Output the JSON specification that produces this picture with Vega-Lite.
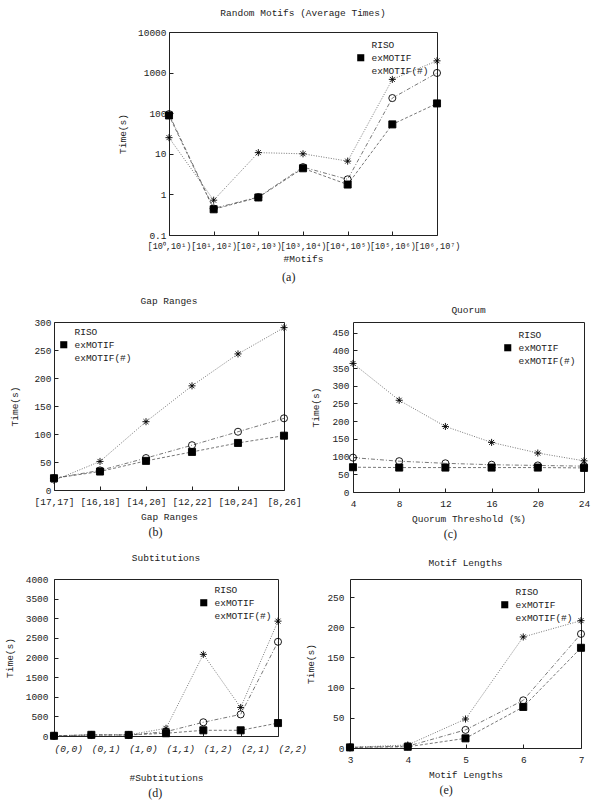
{
  "$schema": "https://vega.github.io/schema/vega-lite/v6.json",
  "padding": {"top": 7, "left": 3, "right": 3, "bottom": 3},
  "background": "white",
  "datasets": {
    "motifs": [
      {"series": "RISO", "bin": "[10⁰,10¹)", "time": 25},
      {"series": "RISO", "bin": "[10¹,10²)", "time": 0.72},
      {"series": "RISO", "bin": "[10²,10³)", "time": 10.7},
      {"series": "RISO", "bin": "[10³,10⁴)", "time": 10},
      {"series": "RISO", "bin": "[10⁴,10⁵)", "time": 6.6},
      {"series": "RISO", "bin": "[10⁵,10⁶)", "time": 680},
      {"series": "RISO", "bin": "[10⁶,10⁷)", "time": 1950},
      {"series": "exMOTIF", "bin": "[10⁰,10¹)", "time": 88},
      {"series": "exMOTIF", "bin": "[10¹,10²)", "time": 0.43},
      {"series": "exMOTIF", "bin": "[10²,10³)", "time": 0.84},
      {"series": "exMOTIF", "bin": "[10³,10⁴)", "time": 4.4},
      {"series": "exMOTIF", "bin": "[10⁴,10⁵)", "time": 1.75},
      {"series": "exMOTIF", "bin": "[10⁵,10⁶)", "time": 53},
      {"series": "exMOTIF", "bin": "[10⁶,10⁷)", "time": 174},
      {"series": "exMOTIF(#)", "bin": "[10⁰,10¹)", "time": 95},
      {"series": "exMOTIF(#)", "bin": "[10¹,10²)", "time": 0.45},
      {"series": "exMOTIF(#)", "bin": "[10²,10³)", "time": 0.86},
      {"series": "exMOTIF(#)", "bin": "[10³,10⁴)", "time": 4.7},
      {"series": "exMOTIF(#)", "bin": "[10⁴,10⁵)", "time": 2.35},
      {"series": "exMOTIF(#)", "bin": "[10⁵,10⁶)", "time": 236},
      {"series": "exMOTIF(#)", "bin": "[10⁶,10⁷)", "time": 980}
    ],
    "gap": [
      {"series": "RISO", "range": "[17,17]", "time": 17},
      {"series": "RISO", "range": "[16,18]", "time": 51},
      {"series": "RISO", "range": "[14,20]", "time": 122},
      {"series": "RISO", "range": "[12,22]", "time": 186},
      {"series": "RISO", "range": "[10,24]", "time": 243},
      {"series": "RISO", "range": "[8,26]", "time": 290},
      {"series": "exMOTIF", "range": "[17,17]", "time": 21},
      {"series": "exMOTIF", "range": "[16,18]", "time": 33},
      {"series": "exMOTIF", "range": "[14,20]", "time": 52},
      {"series": "exMOTIF", "range": "[12,22]", "time": 68},
      {"series": "exMOTIF", "range": "[10,24]", "time": 84},
      {"series": "exMOTIF", "range": "[8,26]", "time": 97},
      {"series": "exMOTIF(#)", "range": "[17,17]", "time": 21},
      {"series": "exMOTIF(#)", "range": "[16,18]", "time": 35},
      {"series": "exMOTIF(#)", "range": "[14,20]", "time": 57},
      {"series": "exMOTIF(#)", "range": "[12,22]", "time": 80},
      {"series": "exMOTIF(#)", "range": "[10,24]", "time": 104},
      {"series": "exMOTIF(#)", "range": "[8,26]", "time": 128}
    ],
    "quorum": [
      {"series": "RISO", "q": 4, "time": 363},
      {"series": "RISO", "q": 8, "time": 259},
      {"series": "RISO", "q": 12, "time": 185},
      {"series": "RISO", "q": 16, "time": 140},
      {"series": "RISO", "q": 20, "time": 110},
      {"series": "RISO", "q": 24, "time": 88},
      {"series": "exMOTIF", "q": 4, "time": 70},
      {"series": "exMOTIF", "q": 8, "time": 69},
      {"series": "exMOTIF", "q": 12, "time": 69},
      {"series": "exMOTIF", "q": 16, "time": 69},
      {"series": "exMOTIF", "q": 20, "time": 69},
      {"series": "exMOTIF", "q": 24, "time": 68},
      {"series": "exMOTIF(#)", "q": 4, "time": 97},
      {"series": "exMOTIF(#)", "q": 8, "time": 87},
      {"series": "exMOTIF(#)", "q": 12, "time": 81},
      {"series": "exMOTIF(#)", "q": 16, "time": 77},
      {"series": "exMOTIF(#)", "q": 20, "time": 75},
      {"series": "exMOTIF(#)", "q": 24, "time": 73}
    ],
    "subs": [
      {"series": "RISO", "s": "(0,0)", "time": 5},
      {"series": "RISO", "s": "(0,1)", "time": 25},
      {"series": "RISO", "s": "(1,0)", "time": 30},
      {"series": "RISO", "s": "(1,1)", "time": 195},
      {"series": "RISO", "s": "(1,2)", "time": 2080},
      {"series": "RISO", "s": "(2,1)", "time": 727},
      {"series": "RISO", "s": "(2,2)", "time": 2926},
      {"series": "exMOTIF", "s": "(0,0)", "time": 5},
      {"series": "exMOTIF", "s": "(0,1)", "time": 30},
      {"series": "exMOTIF", "s": "(1,0)", "time": 28},
      {"series": "exMOTIF", "s": "(1,1)", "time": 70},
      {"series": "exMOTIF", "s": "(1,2)", "time": 145},
      {"series": "exMOTIF", "s": "(2,1)", "time": 145},
      {"series": "exMOTIF", "s": "(2,2)", "time": 330},
      {"series": "exMOTIF(#)", "s": "(0,0)", "time": 5},
      {"series": "exMOTIF(#)", "s": "(0,1)", "time": 25},
      {"series": "exMOTIF(#)", "s": "(1,0)", "time": 25},
      {"series": "exMOTIF(#)", "s": "(1,1)", "time": 110},
      {"series": "exMOTIF(#)", "s": "(1,2)", "time": 350},
      {"series": "exMOTIF(#)", "s": "(2,1)", "time": 550},
      {"series": "exMOTIF(#)", "s": "(2,2)", "time": 2400}
    ],
    "lengths": [
      {"series": "RISO", "len": 3, "time": 1},
      {"series": "RISO", "len": 4, "time": 5},
      {"series": "RISO", "len": 5, "time": 48},
      {"series": "RISO", "len": 6, "time": 184},
      {"series": "RISO", "len": 7, "time": 211},
      {"series": "exMOTIF", "len": 3, "time": 1},
      {"series": "exMOTIF", "len": 4, "time": 2},
      {"series": "exMOTIF", "len": 5, "time": 16},
      {"series": "exMOTIF", "len": 6, "time": 68},
      {"series": "exMOTIF", "len": 7, "time": 166},
      {"series": "exMOTIF(#)", "len": 3, "time": 1},
      {"series": "exMOTIF(#)", "len": 4, "time": 3},
      {"series": "exMOTIF(#)", "len": 5, "time": 30},
      {"series": "exMOTIF(#)", "len": 6, "time": 79},
      {"series": "exMOTIF(#)", "len": 7, "time": 189}
    ]
  },
  "vconcat": [
    {
      "hconcat": [
        {"width": 62, "height": 1, "view": {"stroke": null}, "data": {"values": []}, "mark": "point"},
        {
          "title": {"text": "(a)", "orient": "bottom", "anchor": "middle", "font": "Liberation Serif", "fontSize": 12, "offset": 8},
          "vconcat": [
            {
              "width": 268, "height": 203,
              "title": {"text": "Random Motifs (Average Times)", "offset": 10},
              "data": {"name": "motifs"},
              "encoding": {
                "x": {"field": "bin", "type": "ordinal", "scale": {"type": "point", "padding": 0, "domain": ["[10⁰,10¹)", "[10¹,10²)", "[10²,10³)", "[10³,10⁴)", "[10⁴,10⁵)", "[10⁵,10⁶)", "[10⁶,10⁷)"]}, "axis": {"title": "#Motifs", "labelAngle": 0, "labelOverlap": false, "labelFontSize": 8.5, "labelPadding": 10, "titlePadding": 4}},
                "y": {"field": "time", "type": "quantitative", "scale": {"type": "log", "domain": [0.1, 10000]}, "axis": {"title": "Time(s)", "values": [0.1, 1, 10, 100, 1000, 10000], "format": "~g", "labelPadding": 7, "titlePadding": 10}}
              },
              "layer": [
                {"mark": {"type": "line", "strokeWidth": 0.8, "color": "#555"}, "encoding": {"strokeDash": {"field": "series", "scale": {"domain": ["exMOTIF(#)", "exMOTIF", "RISO"], "range": [[4, 2, 1, 2], [3, 2], [1, 1.5]]}, "legend": null}}},
                {"mark": {"type": "point", "filled": true, "stroke": "black", "strokeWidth": 0.9, "size": 50, "opacity": 1},
                 "encoding": {
                   "shape": {"field": "series", "scale": {"domain": ["RISO", "exMOTIF", "exMOTIF(#)"], "range": ["M-1,0L1,0M0,-1L0,1M-0.7,-0.7L0.7,0.7M-0.7,0.7L0.7,-0.7", "square", "circle"]}, "legend": {"title": null, "orient": "top-right", "offset": 8, "symbolStrokeColor": "black", "symbolStrokeWidth": 0.9}},
                   "fill": {"field": "series", "scale": {"domain": ["RISO", "exMOTIF", "exMOTIF(#)"], "range": ["transparent", "black", "transparent"]}, "legend": {"title": null, "orient": "top-right", "offset": 8, "symbolStrokeColor": "black", "symbolStrokeWidth": 0.9}}
                 }}
              ]
            }
          ],
          "resolve": {"scale": {"shape": "independent", "fill": "independent", "strokeDash": "independent"}, "legend": {"shape": "independent", "fill": "independent"}}
        }
      ],
      "spacing": 0,
      "resolve": {"scale": {"shape": "independent", "fill": "independent", "strokeDash": "independent"}, "legend": {"shape": "independent", "fill": "independent"}}
    },
    {
      "hconcat": [
        {
          "title": {"text": "(b)", "orient": "bottom", "anchor": "middle", "font": "Liberation Serif", "fontSize": 12, "offset": 5},
          "vconcat": [
            {
              "width": 230, "height": 168,
              "title": {"text": "Gap Ranges", "offset": 12},
              "data": {"name": "gap"},
              "encoding": {
                "x": {"field": "range", "type": "ordinal", "scale": {"type": "point", "padding": 0, "domain": ["[17,17]", "[16,18]", "[14,20]", "[12,22]", "[10,24]", "[8,26]"]}, "axis": {"title": "Gap Ranges", "labelAngle": 0, "labelOverlap": false, "labelPadding": 10, "titlePadding": 6}},
                "y": {"field": "time", "type": "quantitative", "scale": {"domain": [0, 300]}, "axis": {"title": "Time(s)", "values": [0, 50, 100, 150, 200, 250, 300], "labelPadding": 7, "titlePadding": 14}}
              },
              "layer": [
                {"mark": {"type": "line", "strokeWidth": 0.8, "color": "#555"}, "encoding": {"strokeDash": {"field": "series", "scale": {"domain": ["exMOTIF(#)", "exMOTIF", "RISO"], "range": [[4, 2, 1, 2], [3, 2], [1, 1.5]]}, "legend": null}}},
                {"mark": {"type": "point", "filled": true, "stroke": "black", "strokeWidth": 0.9, "size": 50, "opacity": 1},
                 "encoding": {
                   "shape": {"field": "series", "scale": {"domain": ["RISO", "exMOTIF", "exMOTIF(#)"], "range": ["M-1,0L1,0M0,-1L0,1M-0.7,-0.7L0.7,0.7M-0.7,0.7L0.7,-0.7", "square", "circle"]}, "legend": {"title": null, "orient": "top-left", "offset": 5, "symbolStrokeColor": "black", "symbolStrokeWidth": 0.9}},
                   "fill": {"field": "series", "scale": {"domain": ["RISO", "exMOTIF", "exMOTIF(#)"], "range": ["transparent", "black", "transparent"]}, "legend": {"title": null, "orient": "top-left", "offset": 5, "symbolStrokeColor": "black", "symbolStrokeWidth": 0.9}}
                 }}
              ]
            }
          ],
          "resolve": {"scale": {"shape": "independent", "fill": "independent", "strokeDash": "independent"}, "legend": {"shape": "independent", "fill": "independent"}}
        },
        {
          "title": {"text": "(c)", "orient": "bottom", "anchor": "middle", "font": "Liberation Serif", "fontSize": 12, "offset": 5},
          "vconcat": [
            {
              "width": 231, "height": 170,
              "title": {"text": "Quorum", "offset": 8},
              "data": {"name": "quorum"},
              "encoding": {
                "x": {"field": "q", "type": "quantitative", "scale": {"domain": [4, 24], "nice": false}, "axis": {"title": "Quorum Threshold (%)", "values": [4, 8, 12, 16, 20, 24], "labelFlush": false, "labelPadding": 10, "titlePadding": 6}},
                "y": {"field": "time", "type": "quantitative", "scale": {"domain": [0, 480], "nice": false}, "axis": {"title": "Time(s)", "values": [0, 50, 100, 150, 200, 250, 300, 350, 400, 450], "labelPadding": 8, "titlePadding": 11}}
              },
              "layer": [
                {"mark": {"type": "line", "strokeWidth": 0.8, "color": "#555"}, "encoding": {"strokeDash": {"field": "series", "scale": {"domain": ["exMOTIF(#)", "exMOTIF", "RISO"], "range": [[4, 2, 1, 2], [3, 2], [1, 1.5]]}, "legend": null}}},
                {"mark": {"type": "point", "filled": true, "stroke": "black", "strokeWidth": 0.9, "size": 50, "opacity": 1},
                 "encoding": {
                   "shape": {"field": "series", "scale": {"domain": ["RISO", "exMOTIF", "exMOTIF(#)"], "range": ["M-1,0L1,0M0,-1L0,1M-0.7,-0.7L0.7,0.7M-0.7,0.7L0.7,-0.7", "square", "circle"]}, "legend": {"title": null, "orient": "top-right", "offset": 8, "symbolStrokeColor": "black", "symbolStrokeWidth": 0.9}},
                   "fill": {"field": "series", "scale": {"domain": ["RISO", "exMOTIF", "exMOTIF(#)"], "range": ["transparent", "black", "transparent"]}, "legend": {"title": null, "orient": "top-right", "offset": 8, "symbolStrokeColor": "black", "symbolStrokeWidth": 0.9}}
                 }}
              ]
            }
          ],
          "resolve": {"scale": {"shape": "independent", "fill": "independent", "strokeDash": "independent"}, "legend": {"shape": "independent", "fill": "independent"}}
        }
      ],
      "spacing": 8,
      "resolve": {"scale": {"shape": "independent", "fill": "independent", "strokeDash": "independent"}, "legend": {"shape": "independent", "fill": "independent"}}
    },
    {
      "hconcat": [
        {
          "title": {"text": "(d)", "orient": "bottom", "anchor": "middle", "font": "Liberation Serif", "fontSize": 12, "offset": 5},
          "vconcat": [
            {
              "width": 224, "height": 157,
              "title": {"text": "Subtitutions", "offset": 12},
              "data": {"name": "subs"},
              "encoding": {
                "x": {"field": "s", "type": "ordinal", "scale": {"type": "point", "padding": 0, "domain": ["(0,0)", "(0,1)", "(1,0)", "(1,1)", "(1,2)", "(2,1)", "(2,2)"]}, "axis": {"title": "#Subtitutions", "labelAngle": 0, "labelAlign": "left", "labelFontStyle": "italic", "labelOverlap": false, "labelPadding": 11, "titlePadding": 20}},
                "y": {"field": "time", "type": "quantitative", "scale": {"domain": [0, 4000]}, "axis": {"title": "Time(s)", "values": [0, 500, 1000, 1500, 2000, 2500, 3000, 3500, 4000], "format": "d", "titlePadding": 11}}
              },
              "layer": [
                {"mark": {"type": "line", "strokeWidth": 0.8, "color": "#555"}, "encoding": {"strokeDash": {"field": "series", "scale": {"domain": ["exMOTIF(#)", "exMOTIF", "RISO"], "range": [[4, 2, 1, 2], [3, 2], [1, 1.5]]}, "legend": null}}},
                {"mark": {"type": "point", "filled": true, "stroke": "black", "strokeWidth": 0.9, "size": 50, "opacity": 1},
                 "encoding": {
                   "shape": {"field": "series", "scale": {"domain": ["RISO", "exMOTIF", "exMOTIF(#)"], "range": ["M-1,0L1,0M0,-1L0,1M-0.7,-0.7L0.7,0.7M-0.7,0.7L0.7,-0.7", "square", "circle"]}, "legend": {"title": null, "orient": "top-right", "offset": 6, "symbolStrokeColor": "black", "symbolStrokeWidth": 0.9}},
                   "fill": {"field": "series", "scale": {"domain": ["RISO", "exMOTIF", "exMOTIF(#)"], "range": ["transparent", "black", "transparent"]}, "legend": {"title": null, "orient": "top-right", "offset": 6, "symbolStrokeColor": "black", "symbolStrokeWidth": 0.9}}
                 }}
              ]
            }
          ],
          "resolve": {"scale": {"shape": "independent", "fill": "independent", "strokeDash": "independent"}, "legend": {"shape": "independent", "fill": "independent"}}
        },
        {
          "title": {"text": "(e)", "orient": "bottom", "anchor": "middle", "font": "Liberation Serif", "fontSize": 12, "offset": 5},
          "vconcat": [
            {
              "width": 231, "height": 169,
              "title": {"text": "Motif Lengths", "offset": 12},
              "data": {"name": "lengths"},
              "encoding": {
                "x": {"field": "len", "type": "quantitative", "scale": {"domain": [3, 7], "nice": false}, "axis": {"title": "Motif Lengths", "values": [3, 4, 5, 6, 7], "labelFlush": false, "labelPadding": 10, "titlePadding": 6}},
                "y": {"field": "time", "type": "quantitative", "scale": {"domain": [0, 280], "nice": false}, "axis": {"title": "Time(s)", "values": [0, 50, 100, 150, 200, 250], "titlePadding": 11}}
              },
              "layer": [
                {"mark": {"type": "line", "strokeWidth": 0.8, "color": "#555"}, "encoding": {"strokeDash": {"field": "series", "scale": {"domain": ["exMOTIF(#)", "exMOTIF", "RISO"], "range": [[4, 2, 1, 2], [3, 2], [1, 1.5]]}, "legend": null}}},
                {"mark": {"type": "point", "filled": true, "stroke": "black", "strokeWidth": 0.9, "size": 50, "opacity": 1},
                 "encoding": {
                   "shape": {"field": "series", "scale": {"domain": ["RISO", "exMOTIF", "exMOTIF(#)"], "range": ["M-1,0L1,0M0,-1L0,1M-0.7,-0.7L0.7,0.7M-0.7,0.7L0.7,-0.7", "square", "circle"]}, "legend": {"title": null, "orient": "top-right", "offset": 8, "symbolStrokeColor": "black", "symbolStrokeWidth": 0.9}},
                   "fill": {"field": "series", "scale": {"domain": ["RISO", "exMOTIF", "exMOTIF(#)"], "range": ["transparent", "black", "transparent"]}, "legend": {"title": null, "orient": "top-right", "offset": 8, "symbolStrokeColor": "black", "symbolStrokeWidth": 0.9}}
                 }}
              ]
            }
          ],
          "resolve": {"scale": {"shape": "independent", "fill": "independent", "strokeDash": "independent"}, "legend": {"shape": "independent", "fill": "independent"}}
        }
      ],
      "spacing": -3,
      "resolve": {"scale": {"shape": "independent", "fill": "independent", "strokeDash": "independent"}, "legend": {"shape": "independent", "fill": "independent"}}
    }
  ],
  "spacing": 12,
  "resolve": {"scale": {"x": "independent", "y": "independent", "shape": "independent", "fill": "independent", "strokeDash": "independent"}, "legend": {"shape": "independent", "fill": "independent"}},
  "config": {
    "font": "Liberation Mono",
    "view": {"stroke": "#222", "strokeWidth": 1},
    "axis": {"labelFont": "Liberation Mono", "titleFont": "Liberation Mono", "labelFontSize": 9.5, "titleFontSize": 9.5, "titleFontWeight": "normal", "labelColor": "#222", "titleColor": "#222", "domain": false, "tickColor": "#222", "tickSize": -4, "labelPadding": 10, "grid": false},
    "title": {"font": "Liberation Mono", "fontSize": 9.5, "fontWeight": "normal", "color": "#222"},
    "legend": {"labelFont": "Liberation Mono", "labelFontSize": 9.5, "labelColor": "#222", "rowPadding": 1, "symbolSize": 50, "padding": 0, "labelOffset": 6}
  }
}
